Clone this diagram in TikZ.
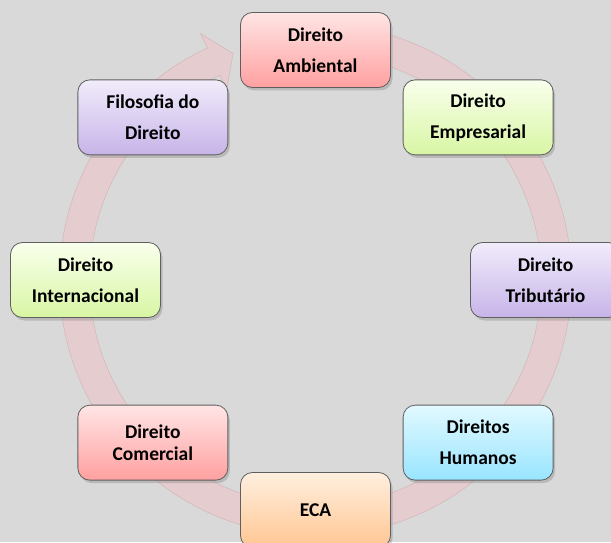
\documentclass[tikz,border=0pt]{standalone}
\usepackage{fontspec}
\setmainfont{Carlito}
\usetikzlibrary{calc, shadows}

\definecolor{bggray}{RGB}{217,217,217}
\definecolor{bandpink}{RGB}{229,204,206}
\definecolor{bandedge}{RGB}{210,182,185}
\definecolor{boxedge}{RGB}{95,95,95}
\definecolor{redtop}{RGB}{255,229,229}
\definecolor{redbot}{RGB}{255,160,160}
\definecolor{greentop}{RGB}{249,255,236}
\definecolor{greenbot}{RGB}{216,246,164}
\definecolor{purpletop}{RGB}{241,236,251}
\definecolor{purplebot}{RGB}{199,180,232}
\definecolor{bluetop}{RGB}{226,249,255}
\definecolor{bluebot}{RGB}{152,229,255}
\definecolor{orangetop}{RGB}{255,239,223}
\definecolor{orangebot}{RGB}{255,198,146}

\tikzset{
  topicbox/.style={draw=boxedge, line width=0.8pt, rounded corners=12pt,
    minimum width=150, minimum height=75, align=center,
    font=\fontsize{19.5}{31}\selectfont\bfseries,
    drop shadow={shadow xshift=2pt, shadow yshift=-3pt, opacity=0.35}},
  redbox/.style={topicbox, top color=redtop, bottom color=redbot},
  greenbox/.style={topicbox, top color=greentop, bottom color=greenbot},
  purplebox/.style={topicbox, top color=purpletop, bottom color=purplebot},
  bluebox/.style={topicbox, top color=bluetop, bottom color=bluebot},
  orangebox/.style={topicbox, top color=orangetop, bottom color=orangebot},
  ringband/.style={fill=bandpink, draw=bandedge, line width=0.5pt}
}

\begin{document}
\begin{tikzpicture}[x=1pt, y=1pt]
\useasboundingbox (0,0) rectangle (611,542);
\clip (0,0) rectangle (611,542);
\fill[bggray] (0,0) rectangle (611,542);
\coordinate (c) at (315.5,262);

% cycle band with arrow head
\path[ringband] ($(c)+(86:256)$) arc[start angle=86, end angle=-245, radius=256]
  -- ($(c)+(-245:272)$) -- ($(c)+(-250:241)$) -- ($(c)+(-245:210)$)
  -- ($(c)+(-245:226)$) arc[start angle=-245, end angle=86, radius=226] -- cycle;

% Define nodes
\path (c)
+(90:230) node[redbox] (ambiental) {Direito\\Ambiental}
+(45:230) node[greenbox] (empresarial) {Direito\\Empresarial}
+(0:230) node[purplebox] (tributario) {Direito\\Tributário}
+(-45:230) node[bluebox] (humanos) {Direitos\\Humanos}
+(-90:230) node[orangebox] (eca) {ECA}
+(-135:230) node[redbox, font=\fontsize{19.5}{22}\selectfont\bfseries] (comercial) {Direito\\Comercial}
+(180:230) node[greenbox] (internacional) {Direito\\Internacional}
+(135:230) node[purplebox] (filosofia) {Filosofia do\\Direito}
;

\end{tikzpicture}
\end{document}
